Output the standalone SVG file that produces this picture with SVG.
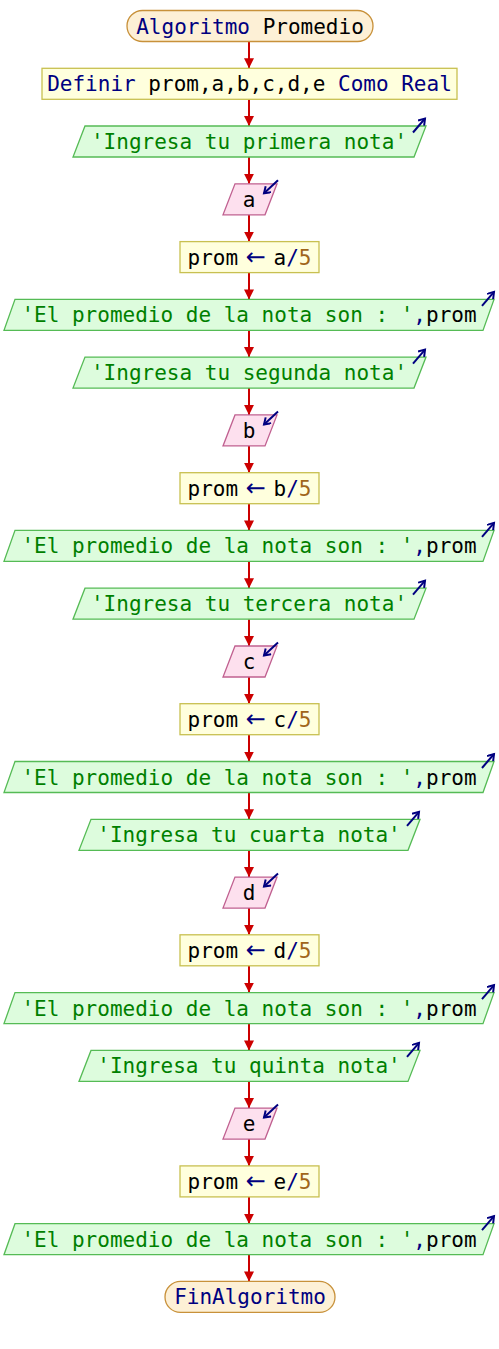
<svg xmlns="http://www.w3.org/2000/svg" width="499" height="1349" viewBox="0 0 499 1349">
<style>
text{font-family:"DejaVu Sans Mono","Liberation Mono",monospace;font-size:21px;text-anchor:middle;fill:#000}
.kw{fill:#000080}.st{fill:#008000}.num{fill:#a0661a}
.arr{fill:#000080;font-family:"DejaVu Sans",sans-serif;font-size:24px}
.term{fill:#fdf0d6;stroke:#c8913a;stroke-width:1.3}
.proc{fill:#ffffdd;stroke:#c8c050;stroke-width:1.3}
.out{fill:#ddfcdd;stroke:#55bb55;stroke-width:1.3}
.in{fill:#fde0ee;stroke:#c06090;stroke-width:1.3}
.icon{stroke:#000080;stroke-width:2;fill:none;marker-end:url(#ih)}
.conn line{stroke:#cc0000;stroke-width:2;marker-end:url(#ah)}
</style>
<defs>
<marker id="ah" markerUnits="userSpaceOnUse" markerWidth="12" markerHeight="10" refX="10" refY="5" orient="auto"><path d="M0,0L10,5L0,10z" fill="#cc0000"/></marker>
<marker id="ih" markerUnits="userSpaceOnUse" markerWidth="10" markerHeight="10" refX="7" refY="4.5" orient="auto"><path d="M1,0.5L7,4.5L1,8.5" fill="none" stroke="#000080" stroke-width="2"/></marker>
</defs>
<g id="connectors" class="conn">
<line x1="249" y1="41.5" x2="249" y2="68.3"/>
<line x1="249" y1="99.3" x2="249" y2="126"/>
<line x1="249" y1="157" x2="249" y2="183.8"/>
<line x1="249" y1="214.8" x2="249" y2="241.6"/>
<line x1="249" y1="272.6" x2="249" y2="299.4"/>
<line x1="249" y1="330.4" x2="249" y2="357.1"/>
<line x1="249" y1="388.1" x2="249" y2="414.9"/>
<line x1="249" y1="445.9" x2="249" y2="472.7"/>
<line x1="249" y1="503.7" x2="249" y2="530.4"/>
<line x1="249" y1="561.4" x2="249" y2="588.2"/>
<line x1="249" y1="619.2" x2="249" y2="646"/>
<line x1="249" y1="677" x2="249" y2="703.7"/>
<line x1="249" y1="734.7" x2="249" y2="761.5"/>
<line x1="249" y1="792.5" x2="249" y2="819.3"/>
<line x1="249" y1="850.3" x2="249" y2="877.1"/>
<line x1="249" y1="908.1" x2="249" y2="934.8"/>
<line x1="249" y1="965.8" x2="249" y2="992.6"/>
<line x1="249" y1="1023.6" x2="249" y2="1050.4"/>
<line x1="249" y1="1081.4" x2="249" y2="1108.1"/>
<line x1="249" y1="1139.1" x2="249" y2="1165.9"/>
<line x1="249" y1="1196.9" x2="249" y2="1223.7"/>
<line x1="249" y1="1254.7" x2="249" y2="1281.4"/>
</g>

<g id="n0" transform="translate(0,26)"><rect class="term" x="127" y="-15.5" width="246" height="31" rx="15.5"/><text x="250" y="7.5"><tspan class="kw">Algoritmo</tspan> Promedio</text></g>
<g id="n1" transform="translate(0,83.8)"><rect class="proc" x="42" y="-15.5" width="415" height="31"/><text x="249.5" y="7.5"><tspan class="kw">Definir</tspan> prom,a,b,c,d,e <tspan class="kw">Como Real</tspan></text></g>

<g id="n2" transform="translate(0,141.5)"><path class="out" d="M85,-15.5H426L414,15.5H73z"/><path class="icon" d="M413,-9L425,-23"/><text x="249" y="7.5" class="st">'Ingresa tu primera nota'</text></g>
<g id="n3" transform="translate(0,199.3)"><path class="in" d="M235,-15.5H277L265,15.5H223z"/><path class="icon" d="M278,-19L264,-6"/><text x="249" y="7.5">a</text></g>
<g id="n4" transform="translate(0,257.1)"><rect class="proc" x="180" y="-15.5" width="139" height="31"/><text x="249.5" y="7.5">prom<tspan class="arr"> ← </tspan>a<tspan class="kw">/</tspan><tspan class="num">5</tspan></text></g>
<g id="n5" transform="translate(0,314.9)"><path class="out" d="M15,-15.5H494L483,15.5H4z"/><path class="icon" d="M482,-9L494,-23"/><text x="249" y="7.5"><tspan class="st">'El promedio de la nota son : '</tspan><tspan class="kw">,</tspan>prom</text></g>

<g id="n6" transform="translate(0,372.6)"><path class="out" d="M85,-15.5H426L414,15.5H73z"/><path class="icon" d="M413,-9L425,-23"/><text x="249" y="7.5" class="st">'Ingresa tu segunda nota'</text></g>
<g id="n7" transform="translate(0,430.4)"><path class="in" d="M235,-15.5H277L265,15.5H223z"/><path class="icon" d="M278,-19L264,-6"/><text x="249" y="7.5">b</text></g>
<g id="n8" transform="translate(0,488.2)"><rect class="proc" x="180" y="-15.5" width="139" height="31"/><text x="249.5" y="7.5">prom<tspan class="arr"> ← </tspan>b<tspan class="kw">/</tspan><tspan class="num">5</tspan></text></g>
<g id="n9" transform="translate(0,545.9)"><path class="out" d="M15,-15.5H494L483,15.5H4z"/><path class="icon" d="M482,-9L494,-23"/><text x="249" y="7.5"><tspan class="st">'El promedio de la nota son : '</tspan><tspan class="kw">,</tspan>prom</text></g>

<g id="n10" transform="translate(0,603.7)"><path class="out" d="M85,-15.5H426L414,15.5H73z"/><path class="icon" d="M413,-9L425,-23"/><text x="249" y="7.5" class="st">'Ingresa tu tercera nota'</text></g>
<g id="n11" transform="translate(0,661.5)"><path class="in" d="M235,-15.5H277L265,15.5H223z"/><path class="icon" d="M278,-19L264,-6"/><text x="249" y="7.5">c</text></g>
<g id="n12" transform="translate(0,719.2)"><rect class="proc" x="180" y="-15.5" width="139" height="31"/><text x="249.5" y="7.5">prom<tspan class="arr"> ← </tspan>c<tspan class="kw">/</tspan><tspan class="num">5</tspan></text></g>
<g id="n13" transform="translate(0,777)"><path class="out" d="M15,-15.5H494L483,15.5H4z"/><path class="icon" d="M482,-9L494,-23"/><text x="249" y="7.5"><tspan class="st">'El promedio de la nota son : '</tspan><tspan class="kw">,</tspan>prom</text></g>

<g id="n14" transform="translate(0,834.8)"><path class="out" d="M91,-15.5H420L408,15.5H79z"/><path class="icon" d="M407,-9L419,-23"/><text x="249" y="7.5" class="st">'Ingresa tu cuarta nota'</text></g>
<g id="n15" transform="translate(0,892.6)"><path class="in" d="M235,-15.5H277L265,15.5H223z"/><path class="icon" d="M278,-19L264,-6"/><text x="249" y="7.5">d</text></g>
<g id="n16" transform="translate(0,950.3)"><rect class="proc" x="180" y="-15.5" width="139" height="31"/><text x="249.5" y="7.5">prom<tspan class="arr"> ← </tspan>d<tspan class="kw">/</tspan><tspan class="num">5</tspan></text></g>
<g id="n17" transform="translate(0,1008.1)"><path class="out" d="M15,-15.5H494L483,15.5H4z"/><path class="icon" d="M482,-9L494,-23"/><text x="249" y="7.5"><tspan class="st">'El promedio de la nota son : '</tspan><tspan class="kw">,</tspan>prom</text></g>

<g id="n18" transform="translate(0,1065.9)"><path class="out" d="M91,-15.5H420L408,15.5H79z"/><path class="icon" d="M407,-9L419,-23"/><text x="249" y="7.5" class="st">'Ingresa tu quinta nota'</text></g>
<g id="n19" transform="translate(0,1123.6)"><path class="in" d="M235,-15.5H277L265,15.5H223z"/><path class="icon" d="M278,-19L264,-6"/><text x="249" y="7.5">e</text></g>
<g id="n20" transform="translate(0,1181.4)"><rect class="proc" x="180" y="-15.5" width="139" height="31"/><text x="249.5" y="7.5">prom<tspan class="arr"> ← </tspan>e<tspan class="kw">/</tspan><tspan class="num">5</tspan></text></g>
<g id="n21" transform="translate(0,1239.2)"><path class="out" d="M15,-15.5H494L483,15.5H4z"/><path class="icon" d="M482,-9L494,-23"/><text x="249" y="7.5"><tspan class="st">'El promedio de la nota son : '</tspan><tspan class="kw">,</tspan>prom</text></g>

<g id="n22" transform="translate(0,1296.9)"><rect class="term" x="165" y="-15.5" width="170" height="31" rx="15.5"/><text x="250" y="7.5" class="kw">FinAlgoritmo</text></g>
</svg>
